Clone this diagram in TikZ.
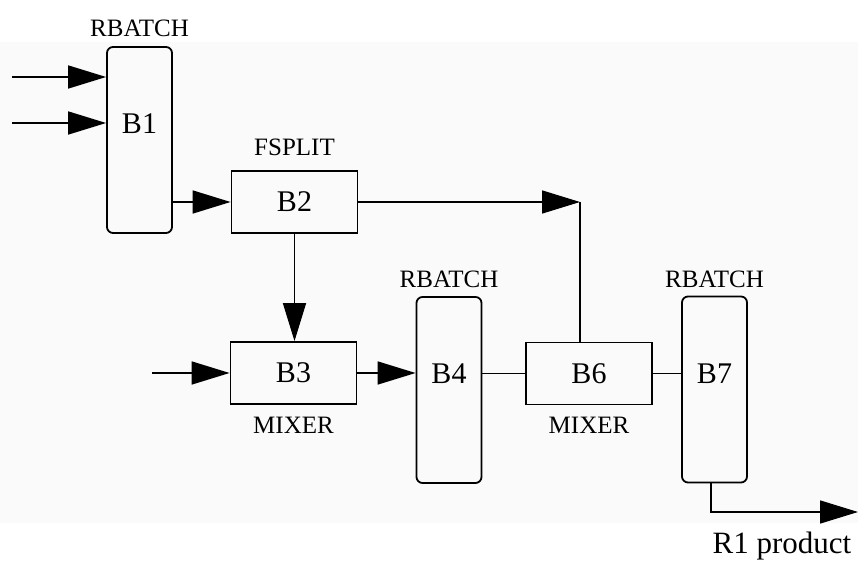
\documentclass[tikz,border=0pt]{standalone}
\usepackage{fontspec}
\setmainfont{Liberation Serif}
\usetikzlibrary{arrows.meta, positioning}

\begin{document}
\begin{tikzpicture}[
    x=0.5pt, y=-0.5pt,
    rbatch/.style={
      draw, rounded corners=3pt,
      line width=0.9pt,
      minimum width=32.5pt,
      minimum height=93pt,
      inner sep=0pt,
      text depth=16pt,
      font=\fontsize{15}{18}\selectfont,
    },
    unit/.style={
      draw,
      line width=0.9pt,
      minimum width=63pt,
      minimum height=31pt,
      inner sep=0pt,
      font=\fontsize{15}{18}\selectfont,
    },
    tag/.style={font=\fontsize{12.5}{15}\selectfont},
    arr/.style={-{Triangle[length=19pt, width=11.5pt]}, line width=0.8pt},
    pipe/.style={line width=0.8pt},
  ]
    \useasboundingbox (0,0) rectangle (858,566);
    \fill[black!2] (0,42) rectangle (858,523);

    % reactors
    \node[rbatch] (b1) at (139.5,140) {B1};
    \node[rbatch] (b4) at (449,390) {B4};
    \node[rbatch] (b7) at (714.5,389.5) {B7};

    % splitter and mixers
    \node[unit] (b2) at (294.5,202) {B2};
    \node[unit] (b3) at (293.5,373) {B3};
    \node[unit] (b6) at (589,373.5) {B6};

    % block types
    \node[tag, above=1pt of b1] (t1) {RBATCH};
    \node[tag, above=3.5pt of b2] (t2) {FSPLIT};
    \node[tag, below=2.5pt of b3] (t3) {MIXER};
    \node[tag, above=0.5pt of b4] (t4) {RBATCH};
    \node[tag, below=2.5pt of b6] (t6) {MIXER};
    \node[tag, above=0.5pt of b7] (t7) {RBATCH};

    % feeds
    \coordinate (in1) at (12,77);
    \coordinate (in2) at (12,123);
    \coordinate (in3) at (152,373);
    \draw[arr] (in1) -- (in1 -| b1.west);
    \draw[arr] (in2) -- (in2 -| b1.west);
    \draw[arr] (in3) -- (b3.west);

    % streams
    \draw[arr] (b1.east |- b2) -- (b2.west);
    \draw[arr] (b2.south) -- (b2.south |- b3.north);
    \coordinate (bend) at (580,202);
    \draw[arr] (b2.east) -- (bend);
    \draw[pipe] (bend) -- (bend |- b6.north);
    \draw[arr] (b3.east) -- (b3.east -| b4.west);
    \draw[pipe] (b4.east |- b6) -- (b6.west);
    \draw[pipe] (b6.east) -- (b6.east -| b7.west);

    % product
    \coordinate (out) at (858,512);
    \draw[arr] ([xshift=-1.75pt]b7.south) |- (out);
    \node[font=\fontsize{15.5}{18}\selectfont] (prod) at (782,546) {R1 product};
\end{tikzpicture}
\end{document}
